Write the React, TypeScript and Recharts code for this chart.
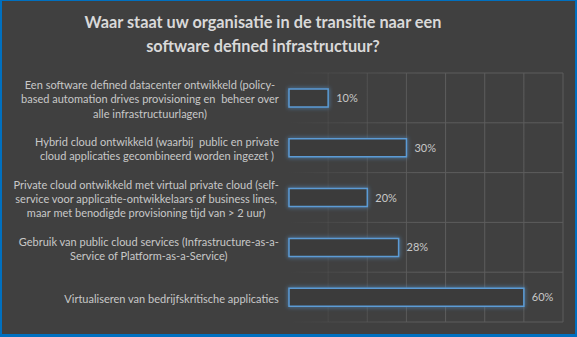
import { BarChart, Bar, XAxis, YAxis, CartesianGrid, LabelList } from 'recharts';

const categories = [
  'Een software defined datacenter ontwikkeld (policy-\nbased automation drives provisioning en  beheer over\nalle infrastructuurlagen)',
  'Hybrid cloud ontwikkeld (waarbij  public en private\ncloud applicaties gecombineerd worden ingezet )',
  'Private cloud ontwikkeld met virtual private cloud (self-\nservice voor applicatie-ontwikkelaars of business lines,\nmaar met benodigde provisioning tijd van > 2 uur)',
  'Gebruik van public cloud services (Infrastructure-as-a-\nService of Platform-as-a-Service)',
  'Virtualiseren van bedrijfskritische applicaties',
];
const values = [10, 30, 20, 28, 60];
const xTicks = [0, 10, 20, 30, 40, 50, 60, 70];

const data = categories.map((name, i) => ({ name, value: values[i] }));

const TICK_FONT = 'Lato';
const TICK_SIZE = 11;

let ctx: CanvasRenderingContext2D | null = null;
const measure = (s: string) => {
  if (!ctx) {
    ctx = document.createElement('canvas').getContext('2d');
  }
  if (!ctx) return s.length * 5;
  ctx.font = `${TICK_SIZE}px ${TICK_FONT}`;
  return ctx.measureText(s).width;
};

const CategoryTick = (props: any) => {
  const { x, y, payload } = props;
  const lines: string[] = String(payload.value).split('\n');
  const w = Math.max(...lines.map(measure));
  const cx = x - w / 2;
  const lh = 14.3;
  const top = y - ((lines.length - 1) * lh) / 2 + 1;
  return (
    <g>
      {lines.map((l, i) => (
        <text
          key={i}
          x={cx}
          y={top + i * lh}
          textAnchor="middle"
          dominantBaseline="central"
          fill="#c8c8c8"
          fontSize={TICK_SIZE}
          fontFamily={TICK_FONT}
          style={{ whiteSpace: 'pre' }}
        >
          {l}
        </text>
      ))}
    </g>
  );
};

export default function App() {
  const n = data.length;
  return (
    <div
      style={{
        position: 'fixed',
        left: 0,
        top: 0,
        width: 577,
        height: 337,
        boxSizing: 'border-box',
        background: '#404040',
        borderStyle: 'solid',
        borderColor: '#0070c0',
        borderWidth: '1px 2px 3px 2px',
        overflow: 'hidden',
      }}
    >
      <div
        style={{
          position: 'absolute',
          left: -2,
          top: 9,
          width: 526,
          textAlign: 'center',
          color: '#d9d9d9',
          fontFamily: 'Lato, sans-serif',
          fontWeight: 700,
          fontSize: 16.3,
          lineHeight: '24px',
        }}
      >
        Waar staat uw organisatie in de transitie naar een
        <br />
        software defined infrastructuur?
      </div>
      <div style={{ position: 'absolute', left: -2, top: -1 }}>
        <BarChart
          width={577}
          height={337}
          data={data}
          layout="vertical"
          margin={{ top: 73, right: 14, bottom: 15, left: 0 }}
          barSize={18}
        >
          <defs>
            <linearGradient id="gridFade" gradientUnits="userSpaceOnUse" x1="289" y1="0" x2="420" y2="0">
              <stop offset="0%" stopColor="#5c5c5c" stopOpacity={0} />
              <stop offset="100%" stopColor="#5c5c5c" stopOpacity={1} />
            </linearGradient>
            <filter id="glow" x="-10%" y="-60%" width="120%" height="220%">
              <feGaussianBlur in="SourceGraphic" stdDeviation="2" result="blur" />
              <feMerge>
                <feMergeNode in="blur" />
                <feMergeNode in="SourceGraphic" />
              </feMerge>
            </filter>
          </defs>
          <CartesianGrid
            stroke="url(#gridFade)"
            strokeWidth={1}
            horizontalCoordinatesGenerator={({ offset }: any) =>
              Array.from({ length: n + 1 }, (_, i) => offset.top + (i * offset.height) / n)
            }
          />
          <XAxis type="number" domain={[0, 70]} ticks={xTicks} hide />
          <YAxis
            type="category"
            dataKey="name"
            width={289}
            axisLine={false}
            tickLine={false}
            tickSize={0}
            tickMargin={10}
            interval={0}
            tick={<CategoryTick />}
          />
          <Bar
            dataKey="value"
            fill="#3a3a3a"
            stroke="#5b9bd5"
            strokeWidth={1.5}
            filter="url(#glow)"
            isAnimationActive={false}
          >
            <LabelList
              dataKey="value"
              position="right"
              offset={8}
              formatter={(v: any) => `${v}%`}
              fill="#c8c8c8"
              fontSize={11}
              fontFamily="Lato"
            />
          </Bar>
        </BarChart>
      </div>
    </div>
  );
}
